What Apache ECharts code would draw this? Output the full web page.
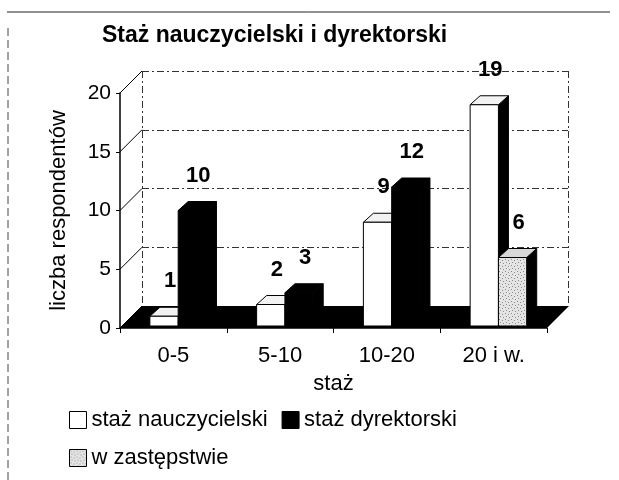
<!DOCTYPE html>
<html>
<head>
    <meta charset="utf-8" />
    <title>Staż nauczycielski i dyrektorski</title>
    <script src="https://cdn.jsdelivr.net/npm/echarts@6/dist/echarts.min.js"></script>
    <style>
        html, body { margin: 0; padding: 0; background: #fff; }
        #chart { width: 619px; height: 480px; }
    </style>
</head>
<body>
    <div id="chart"></div>

    <script>
        // dane
        var kategorie = ["0-5", "5-10", "10-20", "20 i w."];
        var nauczycielski = [1, 2, 9, 19];
        var dyrektorski = [10, 3, 12, 0];
        var zastepstwo = [0, 0, 0, 6];
        var yTicks = [0, 5, 10, 15, 20];

        var DX = 10, DY = 9;      // glebia slupka
        var WX = 22, WY = 22;     // glebia podlogi / tylnej sciany

        // kropkowany wzor dla "w zastepstwie"
        var pc = document.createElement("canvas");
        pc.width = 6; pc.height = 6;
        var g = pc.getContext("2d");
        g.fillStyle = "#e4e4e4"; g.fillRect(0, 0, 6, 6);
        g.fillStyle = "#8a8a8a";
        g.fillRect(1, 1, 1, 1); g.fillRect(4, 2, 1, 1); g.fillRect(2, 4, 1, 1); g.fillRect(5, 5, 1, 1);
        var kropki = { image: pc, repeat: "repeat" };

        // polozenie slupka w kategorii
        function geom(api, slot) {
            var band = api.size([1, 0])[0];
            var w = band * 0.265;
            var base = api.coord([api.value(0), 0]);
            var top = api.coord([api.value(0), api.value(1)]);
            return { x: base[0] - band * 0.22 + slot * w, y: top[1], w: w, b: base[1] - 2 };
        }

        function slupek(slot, front, cap, side) {
            return function (params, api) {
                if (!api.value(1)) return null;
                var s = geom(api, slot), x = s.x, y = s.y, w = s.w, b = s.b;
                return {
                    type: "group",
                    children: [
                        { type: "polygon", shape: { points: [[x + w, y], [x + w + DX, y - DY], [x + w + DX, b - DY], [x + w, b]] },
                          style: { fill: side, stroke: "#000", lineWidth: 1 } },
                        { type: "polygon", shape: { points: [[x, y], [x + DX, y - DY], [x + w + DX, y - DY], [x + w, y]] },
                          style: { fill: cap, stroke: "#000", lineWidth: 1 } },
                        { type: "rect", shape: { x: x, y: y, width: w, height: b - y },
                          style: { fill: front, stroke: "#000", lineWidth: 1 } }
                    ]
                };
            };
        }

        function etykieta(slot) {
            return function (params, api) {
                var v = api.value(1);
                if (!v) return null;
                var s = geom(api, slot);
                return { type: "text", x: s.x + s.w / 2 + 6, y: s.y - DY - 15,
                         style: { text: String(v), fill: "#000", font: "bold 22px 'Liberation Sans', Arial",
                                  align: "center", verticalAlign: "bottom" } };
            };
        }

        function pary(arr) {
            return arr.map(function (v, i) { return [i, v]; });
        }

        var myChart = echarts.init(document.getElementById("chart"));

        var tekst = { fontFamily: "Liberation Sans", fontSize: 22, color: "#000" };

        var option = {
            animation: false,
            title: {
                text: "Staż nauczycielski i dyrektorski",
                left: 97, top: 19,
                textStyle: { fontFamily: "Liberation Sans", fontSize: 23, fontWeight: "bold", color: "#000" }
            },
            legend: [
                {
                    left: 64, top: 404, itemWidth: 17, itemHeight: 17, itemGap: 14,
                    textStyle: tekst,
                    data: [
                        { name: "staż nauczycielski", icon: "rect", itemStyle: { color: "#fff", borderColor: "#000", borderWidth: 1 } },
                        { name: "staż dyrektorski", icon: "rect", itemStyle: { color: "#000", borderColor: "#000", borderWidth: 1 } }
                    ]
                },
                {
                    left: 64, top: 442, itemWidth: 17, itemHeight: 17,
                    textStyle: tekst,
                    data: [
                        { name: "w zastępstwie", icon: "rect", itemStyle: { color: kropki, borderColor: "#000", borderWidth: 1 } }
                    ]
                }
            ],
            grid: [
                { left: 120, right: 72, top: 93, bottom: 152 },
                { left: 142, right: 51, top: 71, bottom: 174 }
            ],
            xAxis: [
                {
                    type: "category", gridIndex: 0, data: kategorie,
                    name: "staż", nameLocation: "middle", nameGap: 45,
                    nameTextStyle: tekst,
                    axisLine: { lineStyle: { color: "#000", width: 1.5 } },
                    axisTick: { show: true, length: 5, lineStyle: { color: "#000" } },
                    axisLabel: { margin: 17, fontFamily: "Liberation Sans", fontSize: 22, color: "#000" },
                    z: 5
                },
                {
                    type: "value", gridIndex: 1, min: 0, max: 1, interval: 1,
                    axisLine: { show: false }, axisTick: { show: false }, axisLabel: { show: false },
                    splitLine: { lineStyle: { color: "#333", type: [7, 3, 2, 3] } }
                }
            ],
            yAxis: [
                {
                    type: "value", gridIndex: 0, min: 0, max: 20, interval: 5,
                    name: "liczba respondentów", nameLocation: "middle", nameGap: 50,
                    nameTextStyle: tekst,
                    axisLine: { show: true, lineStyle: { color: "#000", width: 1.5 } },
                    axisTick: { show: true, length: 4, lineStyle: { color: "#000" } },
                    axisLabel: { margin: 9, fontFamily: "Liberation Sans", fontSize: 21, color: "#000" },
                    splitLine: { show: false },
                    z: 5
                },
                {
                    type: "value", gridIndex: 1, min: 0, max: 20, interval: 5,
                    axisLine: { show: false }, axisTick: { show: false }, axisLabel: { show: false },
                    splitLine: { lineStyle: { color: "#333", type: [7, 3, 2, 3] } }
                }
            ],
            graphic: [
                { type: "line", shape: { x1: 7, y1: 12, x2: 610, y2: 12 }, style: { stroke: "#222", lineWidth: 1 } },
                { type: "line", shape: { x1: 8, y1: 28, x2: 8, y2: 480 }, style: { stroke: "#444", lineWidth: 1, lineDash: [8, 4] } }
            ],
            series: [
                {
                    // podloga i skosy przy podzialce
                    type: "custom", xAxisIndex: 0, yAxisIndex: 0, silent: true, z: 1,
                    data: yTicks.map(function (t) { return [0, t]; }),
                    renderItem: function (params, api) {
                        var cs = params.coordSys;
                        var p = api.coord([0, api.value(1)]);
                        var x0 = cs.x, x1 = cs.x + cs.width, y = p[1];
                        var kids = [{ type: "line", shape: { x1: x0, y1: y, x2: x0 + WX, y2: y - WY }, style: { stroke: "#000", lineWidth: 1 } }];
                        if (api.value(1) === 0) {
                            kids.push({ type: "polygon", shape: { points: [[x0, y], [x1, y], [x1 + WX, y - WY], [x0 + WX, y - WY]] },
                                        style: { fill: "#000" } });
                        }
                        return { type: "group", children: kids };
                    }
                },
                {
                    name: "staż nauczycielski", type: "custom", z: 3,
                    data: pary(nauczycielski), encode: { x: 0, y: 1 },
                    itemStyle: { color: "#fff" },
                    renderItem: slupek(0, "#fff", "#f2f2f2", "#000")
                },
                {
                    name: "staż dyrektorski", type: "custom", z: 3,
                    data: pary(dyrektorski), encode: { x: 0, y: 1 },
                    itemStyle: { color: "#000" },
                    renderItem: slupek(1, "#000", "#000", "#000")
                },
                {
                    name: "w zastępstwie", type: "custom", z: 3,
                    data: pary(zastepstwo), encode: { x: 0, y: 1 },
                    itemStyle: { color: "#ccc" },
                    renderItem: slupek(1, kropki, "#d8d8d8", "#000")
                },
                // etykiety wartosci nad slupkami
                { type: "custom", z: 10, silent: true, data: pary(nauczycielski), encode: { x: 0, y: 1 }, renderItem: etykieta(0) },
                { type: "custom", z: 10, silent: true, data: pary(dyrektorski), encode: { x: 0, y: 1 }, renderItem: etykieta(1) },
                { type: "custom", z: 10, silent: true, data: pary(zastepstwo), encode: { x: 0, y: 1 }, renderItem: etykieta(1) }
            ]
        };
        myChart.setOption(option);
    </script>
</body>
</html>
